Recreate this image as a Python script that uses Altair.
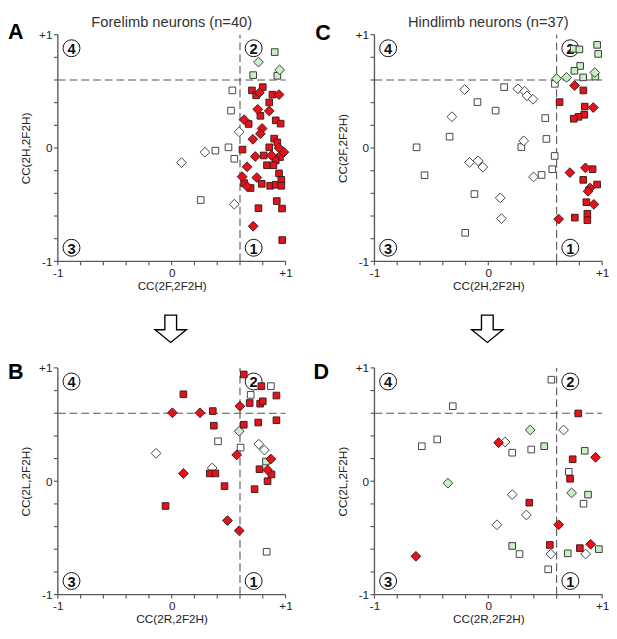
import altair as alt
import pandas as pd

# ---------------- data ----------------
# Panel A : Forelimb neurons, CC(2F,2F2H) vs CC(2H,2F2H)
A_green_sq = [(0.905, 0.846), (0.716, 0.643), (0.928, 0.637)]
A_green_di = [(0.762, 0.758), (0.948, 0.689)]
A_white_sq = [(0.533, 0.508), (0.521, 0.330), (0.499, 0.006), (0.384, -0.023), (0.550, -0.095), (0.255, -0.459)]
A_white_di = [(0.593, 0.143), (0.292, -0.037), (0.086, -0.129), (0.550, -0.496)]
A_red_sq = [(0.705, 0.508), (0.742, 0.465), (0.800, 0.537), (0.885, 0.471), (0.857, 0.402), (0.779, 0.284),
            (0.676, 0.212), (0.914, 0.244), (0.957, 0.215), (0.900, 0.083), (0.928, 0.049), (0.857, 0.006),
            (0.622, -0.014), (0.808, -0.066), (0.951, -0.080), (0.914, -0.109), (0.837, -0.152), (0.894, -0.152),
            (0.943, -0.224), (0.636, -0.310), (0.693, -0.353), (0.791, -0.316), (0.865, -0.333), (0.914, -0.324),
            (0.963, -0.281), (0.963, -0.333), (0.923, -0.468), (0.762, -0.531), (0.969, -0.534), (0.971, -0.812)]
A_red_di = [(0.771, 0.488), (0.943, 0.471), (0.756, 0.341), (0.857, 0.327), (0.636, 0.250), (0.794, 0.172),
            (0.779, 0.126), (0.713, 0.077), (0.943, 0.0), (0.734, -0.075), (0.877, -0.066), (0.986, -0.037),
            (0.662, -0.166), (0.619, -0.253), (0.748, -0.261), (0.662, -0.339), (0.716, -0.690)]

# Panel C : Hindlimb neurons, CC(2H,2F2H) vs CC(2F,2F2H)
C_green_sq = [(0.75, 0.875), (0.80, 0.87), (0.956, 0.91), (0.965, 0.83), (0.807, 0.724), (0.756, 0.681),
              (0.833, 0.623), (0.94, 0.63)]
C_green_di = [(0.60, 0.612), (0.687, 0.623), (0.935, 0.666)]
C_white_sq = [(0.585, 0.566), (0.139, 0.537), (-0.095, 0.405), (0.064, 0.33), (0.50, 0.264), (-0.34, 0.1),
              (0.51, 0.08), (-0.63, 0.006), (0.29, 0.008), (0.583, -0.07), (0.562, -0.187), (0.468, -0.238),
              (-0.56, -0.24), (-0.122, -0.406), (-0.203, -0.748)]
C_white_di = [(-0.208, 0.516), (0.26, 0.522), (0.32, 0.50), (0.34, 0.46), (0.392, 0.43), (-0.32, 0.276),
              (0.311, 0.063), (-0.165, -0.127), (-0.09, -0.113), (-0.048, -0.168), (0.397, -0.255),
              (0.105, -0.44), (0.115, -0.623)]
C_red_sq = [(0.835, 0.508), (0.626, 0.405), (0.847, 0.365), (0.842, 0.293), (0.792, 0.275), (0.75, 0.258),
            (0.916, -0.187), (0.834, -0.281), (0.956, -0.322), (0.861, -0.478), (0.87, -0.58), (0.87, -0.637),
            (0.76, -0.614)]
C_red_di = [(0.758, 0.551), (0.922, 0.357), (0.717, -0.217), (0.853, -0.175), (0.893, -0.353), (0.876, -0.382),
            (0.927, -0.497), (0.618, -0.627)]

# Panel B : Forelimb neurons, CC(2R,2F2H) vs CC(2L,2F2H)
B_white_sq = [(0.871, 0.839), (0.694, 0.762), (0.407, 0.352), (0.605, 0.297), (0.834, -0.622)]
B_white_di = [(0.765, 0.327), (0.814, 0.275), (-0.137, 0.246), (0.356, 0.117)]
B_green_sq = [(0.828, 0.174)]
B_green_di = [(0.593, 0.441)]
B_red_sq = [(0.633, 0.942), (0.788, 0.839), (0.92, 0.756), (0.103, 0.767), (0.685, 0.69), (0.777, 0.684),
            (0.8, 0.705), (0.361, 0.619), (0.37, 0.49), (0.633, 0.498), (0.76, 0.518), (0.92, 0.538),
            (0.335, 0.069), (0.384, 0.069), (0.464, -0.043), (-0.054, -0.218), (0.771, 0.106), (0.877, 0.06),
            (0.842, 0.0), (0.728, -0.07)]
B_red_di = [(0.006, 0.604), (0.249, 0.604), (0.599, 0.662), (0.571, 0.232), (0.103, 0.069), (0.871, 0.196),
            (0.842, 0.1), (0.49, -0.347), (0.593, -0.436)]

# Panel D : Hindlimb neurons, CC(2R,2F2H) vs CC(2L,2F2H)
D_white_sq = [(0.554, 0.896), (-0.312, 0.662), (-0.584, 0.309), (-0.449, 0.369), (0.21, 0.252), (0.377, 0.28),
              (0.707, 0.083), (0.836, -0.198), (0.274, -0.642), (0.526, -0.777)]
D_white_di = [(0.661, 0.452), (0.147, 0.346), (0.21, -0.118), (0.334, -0.298), (0.076, -0.384),
              (0.549, -0.642), (0.855, -0.642)]
D_green_sq = [(0.491, 0.309), (0.847, 0.269), (0.876, -0.118), (0.21, -0.571), (0.698, -0.636), (0.971, -0.599)]
D_green_di = [(0.368, 0.452), (-0.355, -0.017), (0.732, -0.103)]
D_red_sq = [(0.79, 0.598), (0.741, 0.194), (0.718, 0.022), (0.36, -0.189), (0.54, -0.562), (0.804, -0.59)]
D_red_di = [(0.09, 0.34), (0.942, 0.211), (0.618, -0.384), (0.899, -0.556), (-0.636, -0.662)]

# quadrant labels and axis ticks
quad_labels = ["4", "2", "3", "1"]
quad_x = [-0.88, 0.72, -0.88, 0.72]
quad_y = [0.88, 0.88, -0.88, -0.88]
tick_values = [-1, -0.8, -0.6, -0.4, -0.2, 0, 0.2, 0.4, 0.6, 0.8, 1]
axis_min, axis_max = -1, 1
threshold = 0.6

# ---------------- style ----------------
FONT = "Liberation Sans"
AXIS_GREY = "#5a5a5a"
COLORS = {"white": "#ffffff", "green": "#c8f0c4", "red": "#e8111a"}
STROKES = {"white": "#444444", "green": "#3a3a3a", "red": "#3a2020"}
W, H = 233, 232
TICK_LEN = 4
LABEL_EXPR = ("abs(datum.value - 1) < 0.001 ? '+1' : (abs(datum.value + 1) < 0.001 ? '-1' : "
              "(abs(datum.value) < 0.001 ? '0' : ''))")
ARROW = "M-0.375,-0.875 L0.375,-0.875 L0.375,0.0625 L1,0.0625 L0,0.875 L-1,0.0625 L-0.375,0.0625 Z"


def points_frame(groups):
    rows = []
    for pts, shape, color in groups:
        for x, y in pts:
            rows.append({"x": x, "y": y, "shape": shape, "color": color})
    return pd.DataFrame(rows)


def make_axis(title, title_pad):
    # labels and title from the axis; the axis line and ticks are drawn as rule layers below
    return alt.Axis(title=title, values=tick_values, tickCount=30, labelExpr=LABEL_EXPR, grid=False,
                    domain=False, ticks=True, tickOpacity=0, tickSize=TICK_LEN,
                    labelFlush=False, labelOverlap=False, labelBound=False,
                    labelPadding=2, titlePadding=title_pad,
                    labelColor="#222", titleColor="#222", labelFont=FONT, titleFont=FONT,
                    labelFontSize=12, titleFontSize=12, titleFontWeight="normal")


def panel(letter, letter_dx, letter_y, title, xtitle, ytitle, groups, arrow=False):
    xs = alt.Scale(domain=[axis_min, axis_max], nice=False, zero=False)
    ys = alt.Scale(domain=[axis_min, axis_max], nice=False, zero=False)
    xaxis = make_axis(xtitle, 3)
    yaxis = make_axis(ytitle, 6)

    # axis lines
    xdom = alt.Chart(pd.DataFrame({"x": [axis_min], "x2": [axis_max], "y": [axis_min]})).mark_rule(
        color=AXIS_GREY, strokeWidth=1.4).encode(
        x=alt.X("x:Q", scale=xs, axis=xaxis), x2="x2:Q", y=alt.Y("y:Q", scale=ys, axis=yaxis))
    ydom = alt.Chart(pd.DataFrame({"x": [axis_min], "y": [axis_min], "y2": [axis_max]})).mark_rule(
        color=AXIS_GREY, strokeWidth=1.4).encode(
        x=alt.X("x:Q", scale=xs, axis=xaxis), y=alt.Y("y:Q", scale=ys, axis=yaxis), y2="y2:Q")
    tdf = pd.DataFrame({"v": tick_values})
    xticks = alt.Chart(tdf).mark_rule(color=AXIS_GREY, strokeWidth=1.2).encode(
        x=alt.X("v:Q", scale=xs, axis=xaxis), y=alt.value(H), y2=alt.value(H + TICK_LEN))
    yticks = alt.Chart(tdf).mark_rule(color=AXIS_GREY, strokeWidth=1.2).encode(
        y=alt.Y("v:Q", scale=ys, axis=yaxis), x=alt.value(0), x2=alt.value(-TICK_LEN))

    # dashed thresholds
    hline = alt.Chart(pd.DataFrame({"x": [axis_min], "x2": [axis_max], "y": [threshold]})).mark_rule(
        color="#555", strokeDash=[8, 4], strokeWidth=1.1).encode(
        x=alt.X("x:Q", scale=xs, axis=xaxis), x2="x2:Q", y=alt.Y("y:Q", scale=ys, axis=yaxis))
    vline = alt.Chart(pd.DataFrame({"x": [threshold], "y": [axis_min], "y2": [axis_max]})).mark_rule(
        color="#555", strokeDash=[8, 4], strokeWidth=1.1).encode(
        x=alt.X("x:Q", scale=xs, axis=xaxis), y=alt.Y("y:Q", scale=ys, axis=yaxis), y2="y2:Q")

    qdf = pd.DataFrame({"x": quad_x, "y": quad_y, "t": quad_labels})
    circles = alt.Chart(qdf).mark_point(shape="circle", size=300, filled=True, fill="white",
                                        stroke="#111", strokeWidth=1, opacity=1).encode(
        x=alt.X("x:Q", scale=xs, axis=xaxis), y=alt.Y("y:Q", scale=ys, axis=yaxis))
    nums = alt.Chart(qdf).mark_text(font=FONT, fontSize=15, fontWeight="bold", color="#111",
                                    baseline="middle", dy=1).encode(
        x=alt.X("x:Q", scale=xs, axis=xaxis), y=alt.Y("y:Q", scale=ys, axis=yaxis), text="t:N")

    pts = alt.Chart(points_frame(groups)).mark_point(filled=True, opacity=1, strokeWidth=1).encode(
        x=alt.X("x:Q", scale=xs, axis=xaxis), y=alt.Y("y:Q", scale=ys, axis=yaxis),
        shape=alt.Shape("shape:N", scale=alt.Scale(domain=["square", "diamond"], range=["square", "diamond"]),
                        legend=None),
        size=alt.Size("shape:N", scale=alt.Scale(domain=["square", "diamond"], range=[46, 100]), legend=None),
        fill=alt.Fill("color:N", scale=alt.Scale(domain=list(COLORS), range=list(COLORS.values())), legend=None),
        stroke=alt.Stroke("color:N", scale=alt.Scale(domain=list(STROKES), range=list(STROKES.values())),
                          legend=None),
    )

    let = alt.Chart(pd.DataFrame({"t": [letter]})).mark_text(
        font=FONT, fontSize=22, fontWeight="bold", color="#000", align="left", baseline="alphabetic").encode(
        x=alt.value(letter_dx), y=alt.value(letter_y), text="t:N")

    layers = [xdom, ydom, xticks, yticks, hline, vline, circles, nums, pts, let]
    if title:
        ttl = alt.Chart(pd.DataFrame({"t": [title]})).mark_text(
            font=FONT, fontSize=15, color="#333", align="center", baseline="top").encode(
            x=alt.value(W / 2), y=alt.value(-19.5), text="t:N")
        layers.append(ttl)
    if arrow:
        arr = alt.Chart(pd.DataFrame({"a": [1]})).mark_point(
            shape=ARROW, size=1024, filled=True, fill="white", stroke="#000", strokeWidth=1.4, opacity=1).encode(
            x=alt.value(115.5), y=alt.value(301))
        layers.append(arr)
    return alt.layer(*layers).properties(width=W, height=H)


A = panel("A", -51, 4.5, "Forelimb neurons (n=40)", "CC(2F,2F2H)", "CC(2H,2F2H)",
          [(A_white_sq, "square", "white"), (A_white_di, "diamond", "white"),
           (A_green_sq, "square", "green"), (A_green_di, "diamond", "green"),
           (A_red_sq, "square", "red"), (A_red_di, "diamond", "red")], arrow=True)
C = panel("C", -60.5, 5.5, "Hindlimb neurons (n=37)", "CC(2H,2F2H)", "CC(2F,2F2H)",
          [(C_white_sq, "square", "white"), (C_white_di, "diamond", "white"),
           (C_green_sq, "square", "green"), (C_green_di, "diamond", "green"),
           (C_red_sq, "square", "red"), (C_red_di, "diamond", "red")], arrow=True)
B = panel("B", -51, 11, None, "CC(2R,2F2H)", "CC(2L,2F2H)",
          [(B_white_sq, "square", "white"), (B_white_di, "diamond", "white"),
           (B_green_sq, "square", "green"), (B_green_di, "diamond", "green"),
           (B_red_sq, "square", "red"), (B_red_di, "diamond", "red")])
D = panel("D", -62.5, 11, None, "CC(2R,2F2H)", "CC(2L,2F2H)",
          [(D_white_sq, "square", "white"), (D_white_di, "diamond", "white"),
           (D_green_sq, "square", "green"), (D_green_di, "diamond", "green"),
           (D_red_sq, "square", "red"), (D_red_di, "diamond", "red")])

chart = alt.concat(A, C, B, D, columns=2, spacing={"row": 109, "column": 91}, bounds="flush").properties(
    padding=0
).configure_view(stroke=None)

chart.save("out.html", embed_options={"renderer": "svg", "actions": False})
